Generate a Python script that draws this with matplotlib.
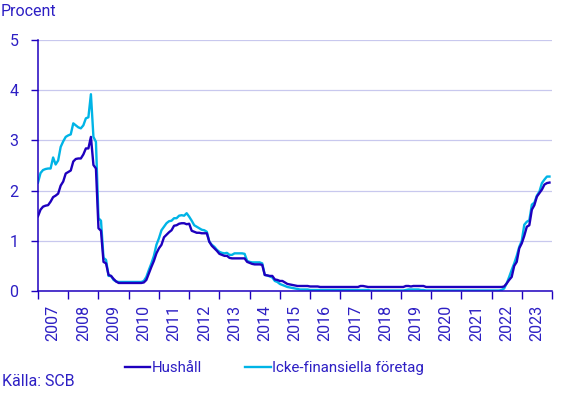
import numpy as np
import pandas as pd
import matplotlib
matplotlib.use("Agg")
import matplotlib.pyplot as plt
from matplotlib.ticker import FixedLocator, NullFormatter

# monthly values, Jan 2007 - Dec 2023 (procent)
hushall = [
    1.49, 1.62, 1.68, 1.70, 1.71, 1.78, 1.87, 1.90, 1.94, 2.10, 2.18, 2.34,  # 2007
    2.37, 2.40, 2.58, 2.63, 2.64, 2.64, 2.72, 2.84, 2.84, 3.07, 2.51, 2.44,  # 2008
    1.25, 1.20, 0.58, 0.55, 0.32, 0.30, 0.24, 0.19, 0.16, 0.16, 0.16, 0.16,  # 2009
    0.16, 0.16, 0.16, 0.16, 0.16, 0.16, 0.17, 0.22, 0.35, 0.48, 0.60, 0.75,  # 2010
    0.85, 0.92, 1.07, 1.12, 1.17, 1.21, 1.30, 1.31, 1.34, 1.35, 1.35, 1.33,  # 2011
    1.34, 1.20, 1.18, 1.16, 1.16, 1.15, 1.15, 1.15, 0.98, 0.90, 0.85, 0.80,  # 2012
    0.74, 0.72, 0.70, 0.70, 0.66, 0.65, 0.65, 0.65, 0.65, 0.65, 0.65, 0.58,  # 2013
    0.56, 0.54, 0.53, 0.53, 0.53, 0.52, 0.32, 0.31, 0.30, 0.30, 0.23, 0.22,  # 2014
    0.20, 0.20, 0.17, 0.14, 0.13, 0.12, 0.11, 0.10, 0.10, 0.10, 0.10, 0.10,  # 2015
    0.09, 0.09, 0.09, 0.09, 0.08, 0.08, 0.08, 0.08, 0.08, 0.08, 0.08, 0.08,  # 2016
    0.08, 0.08, 0.08, 0.08, 0.08, 0.08, 0.08, 0.08, 0.10, 0.10, 0.09, 0.08,  # 2017
    0.08, 0.08, 0.08, 0.08, 0.08, 0.08, 0.08, 0.08, 0.08, 0.08, 0.08, 0.08,  # 2018
    0.08, 0.08, 0.10, 0.10, 0.09, 0.10, 0.10, 0.10, 0.10, 0.10, 0.08, 0.08,  # 2019
    0.08, 0.08, 0.08, 0.08, 0.08, 0.08, 0.08, 0.08, 0.08, 0.08, 0.08, 0.08,  # 2020
    0.08, 0.08, 0.08, 0.08, 0.08, 0.08, 0.08, 0.08, 0.08, 0.08, 0.08, 0.08,  # 2021
    0.08, 0.08, 0.08, 0.08, 0.08, 0.09, 0.15, 0.22, 0.28, 0.50, 0.58, 0.85,  # 2022
    0.95, 1.10, 1.28, 1.31, 1.62, 1.71, 1.88, 1.95, 2.02, 2.12, 2.15, 2.16,  # 2023
]
foretag = [
    2.16, 2.35, 2.41, 2.43, 2.44, 2.44, 2.66, 2.52, 2.60, 2.87, 2.98, 3.07,  # 2007
    3.10, 3.12, 3.34, 3.30, 3.26, 3.24, 3.30, 3.44, 3.46, 3.92, 3.07, 2.97,  # 2008
    1.45, 1.40, 0.66, 0.62, 0.30, 0.30, 0.22, 0.19, 0.18, 0.18, 0.18, 0.18,  # 2009
    0.18, 0.18, 0.18, 0.18, 0.18, 0.18, 0.20, 0.28, 0.42, 0.55, 0.70, 0.92,  # 2010
    1.05, 1.21, 1.28, 1.35, 1.39, 1.40, 1.45, 1.45, 1.50, 1.51, 1.50, 1.55,  # 2011
    1.48, 1.40, 1.31, 1.28, 1.25, 1.22, 1.21, 1.18, 0.98, 0.92, 0.88, 0.82,  # 2012
    0.78, 0.76, 0.75, 0.76, 0.72, 0.72, 0.75, 0.75, 0.75, 0.75, 0.74, 0.60,  # 2013
    0.58, 0.57, 0.57, 0.57, 0.57, 0.55, 0.32, 0.31, 0.29, 0.27, 0.20, 0.18,  # 2014
    0.14, 0.12, 0.10, 0.08, 0.07, 0.06, 0.05, 0.04, 0.03, 0.03, 0.03, 0.03,  # 2015
    0.02, 0.02, 0.02, 0.02, 0.02, 0.02, 0.02, 0.02, 0.02, 0.02, 0.02, 0.02,  # 2016
    0.02, 0.02, 0.02, 0.02, 0.02, 0.02, 0.02, 0.02, 0.02, 0.02, 0.02, 0.02,  # 2017
    0.01, 0.01, 0.01, 0.01, 0.01, 0.01, 0.01, 0.01, 0.01, 0.01, 0.01, 0.01,  # 2018
    0.01, 0.01, 0.02, 0.03, 0.03, 0.03, 0.03, 0.03, 0.02, 0.02, 0.01, 0.01,  # 2019
    0.01, 0.01, 0.01, 0.01, 0.01, 0.01, 0.01, 0.01, 0.01, 0.01, 0.01, 0.01,  # 2020
    0.01, 0.01, 0.01, 0.01, 0.01, 0.01, 0.01, 0.01, 0.01, 0.01, 0.01, 0.01,  # 2021
    0.01, 0.01, 0.01, 0.01, 0.02, 0.05, 0.15, 0.28, 0.42, 0.55, 0.70, 0.88,  # 2022
    1.00, 1.32, 1.38, 1.41, 1.72, 1.76, 1.90, 1.98, 2.15, 2.22, 2.28, 2.28,  # 2023
]
years = list(range(2007, 2024))
series_names = ["Hushåll", "Icke-finansiella företag"]

DARK = "#1e00be"
LIGHT = "#00b4e6"
TXT = "#2d1fc4"
GRID = "#c8c8ee"
FS = 11.5

plt.rcParams["font.family"] = ["Roboto", "DejaVu Sans"]

months = pd.date_range("2007-01-01", periods=len(hushall), freq="MS")
x = months.year + (months.month - 1) / 12

fig = plt.figure(figsize=(5.67, 3.94), dpi=100)
ax = fig.add_axes([38 / 567, 1 - 291 / 394, (552 - 38) / 567, (291 - 40) / 394])

ax.plot(x, hushall, color=DARK, lw=1.7, label=series_names[0], zorder=3)
ax.plot(x, foretag, color=LIGHT, lw=1.7, label=series_names[1], zorder=2)

ax.set_xlim(years[0], years[-1] + 1)
ax.set_ylim(0, 5)
ax.set_yticks(range(0, 6))
ax.grid(axis="y", color=GRID, lw=0.9)
ax.set_axisbelow(True)

# year boundaries as ticks, labels centred within each year
ax.xaxis.set_major_locator(FixedLocator(range(years[0], years[-1] + 2)))
ax.xaxis.set_major_formatter(NullFormatter())
ax.xaxis.set_minor_locator(FixedLocator([y + 0.5 for y in years]))
ax.set_xticklabels([str(y) for y in years], minor=True, rotation=90)
ax.tick_params(axis="x", which="major", length=6, width=1, color=DARK, direction="out")
ax.tick_params(axis="x", which="minor", length=0, pad=10, labelsize=FS, labelcolor=TXT)
ax.tick_params(axis="y", length=5, width=1, color=DARK, labelsize=FS, labelcolor=TXT, pad=9)

for s in ["top", "right"]:
    ax.spines[s].set_visible(False)
for s in ["left", "bottom"]:
    ax.spines[s].set_color(DARK)
    ax.spines[s].set_linewidth(1.1)

fig.text(1 / 567, 1 - 11 / 394, "Procent", color=TXT, fontsize=FS, va="center", ha="left")
fig.text(2 / 567, 1 - 382 / 394, "Källa: SCB", color=TXT, fontsize=FS, va="center", ha="left")

fig.legend(loc="center", bbox_to_anchor=(0.484, 1 - 368 / 394), ncol=2, frameon=False,
           handlelength=1.7, columnspacing=2.9, handletextpad=0.1, fontsize=10.8,
           labelcolor=TXT)

fig.savefig("out.png", dpi=100)
